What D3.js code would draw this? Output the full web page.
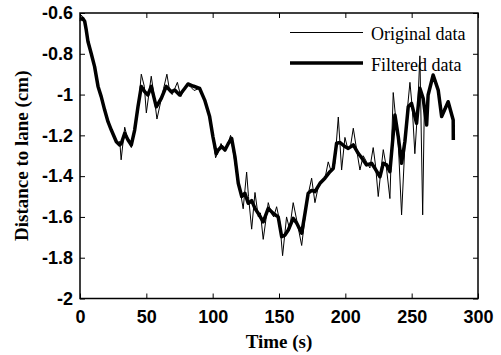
<!DOCTYPE html>
<html>
<head>
<meta charset="utf-8">
<script src="https://cdn.jsdelivr.net/npm/d3@7"></script>
<style>
  body { margin: 0; background: #fff; }
  svg { display: block; }
</style>
</head>
<body>
<svg id="svg"></svg>
<script>
// original (raw) signal
const origTime = [0, 1, 2, 3, 4, 5, 6, 7, 8.5, 10, 11, 13, 14, 16, 18, 20, 22, 24, 26, 28, 30, 31,
  33.7, 36, 38.7, 41, 43.7, 46.2, 48.5, 50, 53.7, 55.5, 58, 61, 63, 65.5, 67.5, 69.5, 71.5, 73.4,
  76, 78.9, 81.4, 83, 86, 90, 94, 97.7, 100.2, 102.2, 104.2, 106.3, 108.5, 111, 113.5, 116, 119,
  121, 123, 125.6, 127, 129.4, 131.9, 134.4, 136, 138.1, 140, 141.9, 144, 146, 148.2, 150.5,
  152.7, 155.7, 158, 160.7, 163.5, 167.1, 170, 172, 174.6, 177.1, 180, 182.5, 185, 187.1, 189.5,
  192, 194.7, 197.2, 199.7, 202, 204, 206, 208.5, 211, 213.5, 216, 218.5, 221, 222.8, 224.8,
  226.7, 228.6, 231, 233.6, 236.1, 238, 240, 242.4, 244.9, 246.5, 248.7, 250.5, 252.4, 254.5,
  256.2, 258.3, 259.5, 261.3, 262.6, 266.2, 268, 270, 272.6, 275, 277.5, 279.5, 281.3, 281.4];
const origValue = [-0.64, -0.61, -0.62, -0.64, -0.66, -0.69, -0.74, -0.76, -0.79, -0.83, -0.87,
  -0.93, -0.97, -1.00, -1.07, -1.11, -1.15, -1.18, -1.21, -1.24, -1.23, -1.32,
  -1.16, -1.22, -1.26, -1.19, -1.08, -0.90, -0.96, -1.09, -0.91, -0.99, -1.12, -1.03, -0.97,
  -0.90, -0.98, -1.00, -0.97, -0.94,
  -1.01, -0.97, -0.955, -0.96, -0.98, -0.97, -1.03, -1.11, -1.21, -1.31, -1.28, -1.24, -1.27,
  -1.25, -1.20, -1.30, -1.43,
  -1.48, -1.56, -1.38, -1.50, -1.66, -1.48, -1.60, -1.58, -1.71, -1.62, -1.53, -1.58, -1.60,
  -1.55, -1.62,
  -1.79, -1.60, -1.66, -1.53, -1.62, -1.74, -1.58, -1.49, -1.41, -1.53, -1.44, -1.43, -1.40,
  -1.33, -1.38,
  -1.34, -1.11, -1.37, -1.21, -1.27, -1.25, -1.165, -1.27, -1.37, -1.30, -1.33, -1.36, -1.26,
  -1.35, -1.50,
  -1.38, -1.27, -1.36, -1.51, -0.99, -1.12, -1.25, -1.59, -1.25, -1.09, -0.94, -1.07, -1.29,
  -1.07,
  -0.81, -1.59, -1.08, -1.15, -1.00, -0.91, -0.93, -0.99, -1.10, -1.06, -1.04, -1.09, -1.13, -1.22];

// filtered signal
const filtTime = [0.5, 2, 3.5, 4.7, 6, 8.5, 11, 13.6, 16, 18.6, 21.1, 23.6, 27.4, 29.9, 31.1,
  33.7, 36.2, 38.7, 41.2, 43.7, 46.2, 48.8, 51.2, 53.7, 57.5, 61.3, 65, 68.8, 71.4, 75.1, 78.9,
  81.4, 85.2, 90.2, 94, 97.7, 100.2, 102.7, 104.2, 106.8, 109.3, 111.8, 114.3, 116.8, 119.3,
  121.9, 124.3, 126.8, 129.4, 131.9, 134.4, 138.1, 141.9, 145.7, 149.4, 152, 154.5, 157, 160.7,
  163.3, 167.1, 169.6, 172, 174.6, 177.1, 180.9, 184.6, 188.4, 190.9, 193.4, 196, 199.7, 202.2,
  206, 209.7, 212.3, 216, 219.8, 222.3, 226.1, 228.6, 231.1, 233.6, 237.4, 239.9, 242.4, 244.9,
  247.4, 249.9, 253.7, 256.2, 258.7, 261.3, 262.4, 266.2, 270, 272.6, 277.5, 281.3, 281.4];
const filtValue = [-0.634, -0.626, -0.64, -0.683, -0.74, -0.80, -0.863, -0.96, -1.01, -1.076,
  -1.133, -1.174, -1.231, -1.247, -1.24,
  -1.19, -1.223, -1.247, -1.174, -1.06, -0.96, -0.986, -1.002, -0.96, -1.06, -1.018, -0.96,
  -0.986, -0.978, -1.002, -0.97,
  -0.948, -0.958, -0.97, -1.027, -1.108, -1.207, -1.29, -1.272, -1.255, -1.272, -1.24, -1.215,
  -1.305, -1.435,
  -1.50, -1.484, -1.533, -1.52, -1.558, -1.583, -1.624, -1.558, -1.583, -1.60, -1.697, -1.689,
  -1.664, -1.607,
  -1.63, -1.68, -1.582, -1.484, -1.47, -1.476, -1.435, -1.41, -1.378, -1.362, -1.239, -1.235,
  -1.255, -1.264,
  -1.247, -1.288, -1.31, -1.345, -1.337, -1.362, -1.403, -1.337, -1.345, -1.378, -1.10, -1.207,
  -1.337, -1.23,
  -1.06, -1.043, -1.141, -0.969, -1.02, -1.149, -1.002, -0.904, -0.978, -1.108, -1.035, -1.125,
  -1.223];

const xTicks = [0, 50, 100, 150, 200, 250, 300];
const yTicks = [-2, -1.8, -1.6, -1.4, -1.2, -1, -0.8, -0.6];
const legendLabels = ["Original data", "Filtered data"];

const width = 501, height = 355;
const mLeft = 80, mRight = 478, mTop = 13, mBottom = 298.5;

const svg = d3.select("#svg")
  .attr("width", width)
  .attr("height", height)
  .attr("viewBox", [0, 0, width, height])
  .attr("font-family", "'Liberation Serif', 'Times New Roman', serif");

const x = d3.scaleLinear([0, 300], [mLeft, mRight]);
const y = d3.scaleLinear([-2, -0.6], [mBottom, mTop]);

// frame
svg.append("rect")
  .attr("x", mLeft).attr("y", mTop)
  .attr("width", mRight - mLeft).attr("height", mBottom - mTop)
  .attr("fill", "none").attr("stroke", "#000").attr("stroke-width", 1.5);

const fmt = d => String(+d.toFixed(1));

function styleAxis(g) {
  g.select(".domain").remove();
  g.selectAll(".tick line").attr("stroke", "#000").attr("stroke-width", 1);
  g.selectAll("text").attr("fill", "#000").attr("font-size", 18).attr("font-weight", "bold");
}

svg.append("g")
  .attr("transform", `translate(0,${mBottom})`)
  .call(d3.axisBottom(x).tickValues(xTicks).tickSize(-5).tickPadding(12).tickFormat(fmt))
  .call(styleAxis);

svg.append("g")
  .attr("transform", `translate(0,${mTop})`)
  .call(d3.axisTop(x).tickValues(xTicks).tickSize(-5).tickFormat(""))
  .call(styleAxis);

svg.append("g")
  .attr("transform", `translate(${mLeft},0)`)
  .call(d3.axisLeft(y).tickValues(yTicks).tickSize(-5).tickPadding(7).tickFormat(fmt))
  .call(styleAxis);

svg.append("g")
  .attr("transform", `translate(${mRight},0)`)
  .call(d3.axisRight(y).tickValues(yTicks).tickSize(-5).tickFormat(""))
  .call(styleAxis);

// lines
const orig = origTime.map((t, i) => ({t, v: origValue[i]}));
const filt = filtTime.map((t, i) => ({t, v: filtValue[i]}));
const line = d3.line().x(d => x(d.t)).y(d => y(d.v));

svg.append("path")
  .datum(orig)
  .attr("fill", "none")
  .attr("stroke", "#000")
  .attr("stroke-width", 1)
  .attr("d", line);

svg.append("path")
  .datum(filt)
  .attr("fill", "none")
  .attr("stroke", "#000")
  .attr("stroke-width", 3.5)
  .attr("stroke-linejoin", "round")
  .attr("d", line);

// axis titles
svg.append("text")
  .attr("x", (mLeft + mRight) / 2).attr("y", 348)
  .attr("text-anchor", "middle")
  .attr("font-size", 19).attr("font-weight", "bold")
  .text("Time (s)");

svg.append("text")
  .attr("transform", `translate(28,${(mTop + mBottom) / 2}) rotate(-90)`)
  .attr("text-anchor", "middle")
  .attr("font-size", 19).attr("font-weight", "bold")
  .text("Distance to lane (cm)");

// legend
const legend = svg.append("g");
[1, 3.5].forEach((w, i) => {
  const ly = 32.5 + i * 30.5;
  legend.append("line")
    .attr("x1", 290).attr("x2", 363)
    .attr("y1", ly).attr("y2", ly)
    .attr("stroke", "#000").attr("stroke-width", w);
  legend.append("text")
    .attr("x", 371).attr("y", ly + 7.5)
    .attr("font-size", 18)
    .text(legendLabels[i]);
});
</script>
</body>
</html>
